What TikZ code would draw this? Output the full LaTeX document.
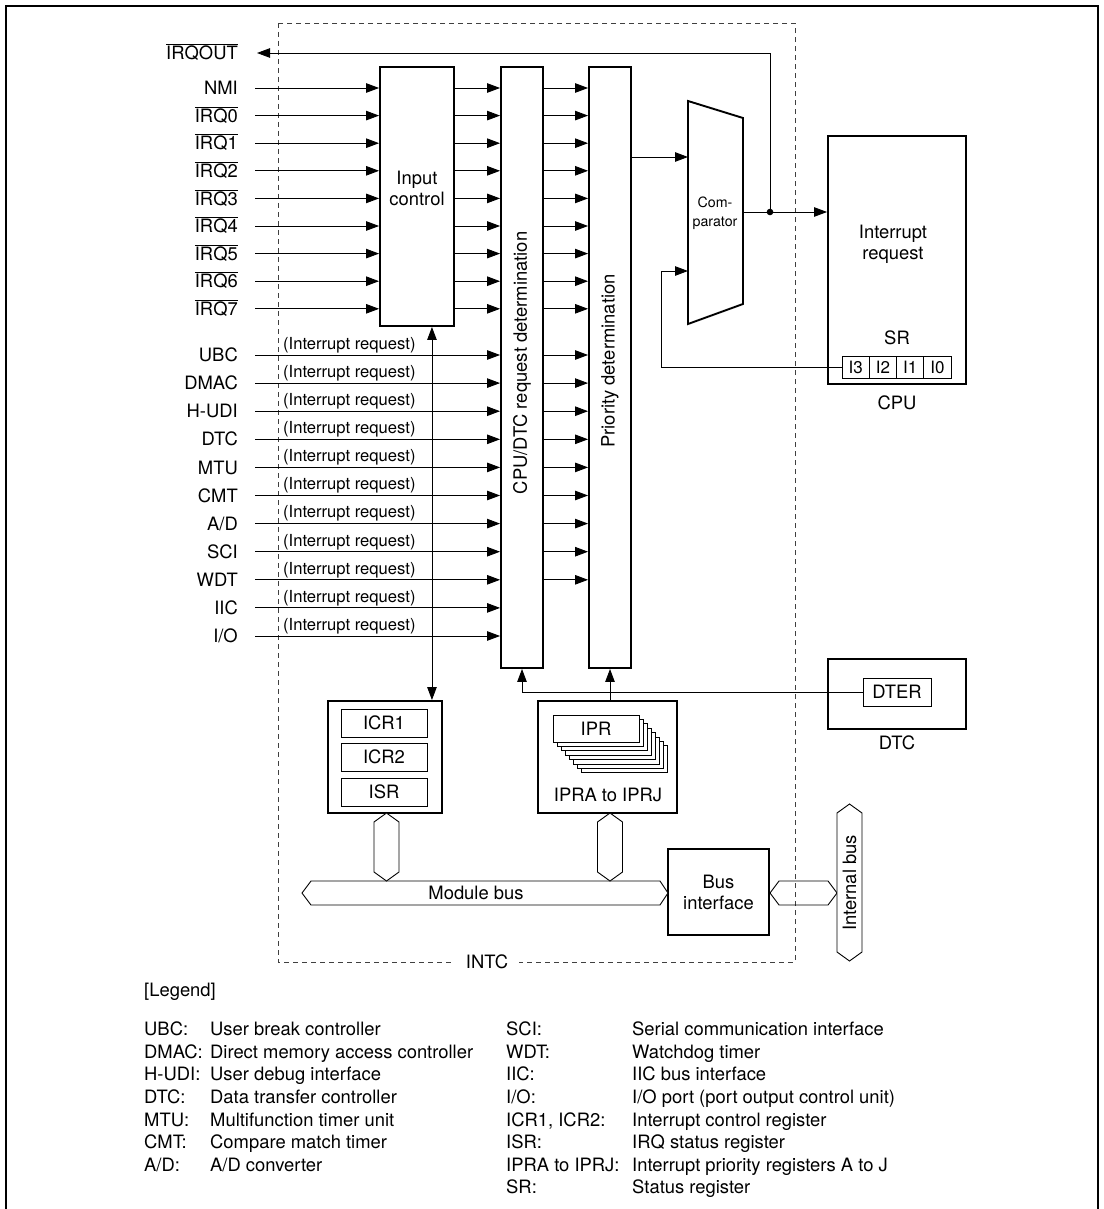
\documentclass[tikz,border=0pt]{standalone}
\usepackage{fontspec}
\setmainfont{TeX Gyre Heros}
\usetikzlibrary{arrows.meta,positioning,calc}

\newcommand{\ovl}[1]{$\overline{\mbox{#1}}$}

\begin{document}
\begin{tikzpicture}[x=1pt,y=-1pt,
  blk/.style={draw,line width=1.9pt,inner sep=0pt},
  reg/.style={draw,line width=0.8pt,fill=white,inner sep=0pt},
  txt/.style={inner sep=0pt,font=\fontsize{18.4}{21}\selectfont,align=center},
  src/.style={txt,anchor=east,text height=13.2pt,text depth=0pt},
  leg/.style={txt,anchor=west,text height=13.2pt,text depth=0pt},
  irq/.style={inner sep=0pt,font=\fontsize{16.6}{18}\selectfont},
  arr/.style={-{Triangle[length=13pt,width=9.5pt]},line width=0.9pt},
  darr/.style={{Triangle[length=13pt,width=9.5pt]}-{Triangle[length=13pt,width=9.5pt]},
               line width=0.9pt},
  bus/.style={draw,line width=0.9pt,fill=white},
]
\useasboundingbox (0,0) rectangle (1103,1209);

%% Outer frame (open at the bottom)
\draw[line width=2.6pt] (6,1212) -- (6,6) -- (1098,6) -- (1098,1212);

%% INTC boundary
\draw[dash pattern=on 5pt off 4pt,line width=0.8pt,black!75] (278,23) rectangle (795,962);
\node[txt,fill=white,inner xsep=11pt,inner ysep=2pt] (intc) at (487,962) {INTC};

%% Main blocks
\node[blk,minimum width=74,minimum height=259] (inctl) at (417,196.5) {};
\node[txt] (inctltxt) at (417,188) {Input\\control};
\node[blk,minimum width=42,minimum height=601] (cpudtc) at (522,367.5) {};
\node[txt,rotate=90] (cpudtctxt) at (522,363) {CPU/DTC request determination};
\node[blk,minimum width=42,minimum height=601] (prio) at (610,367.5) {};
\node[txt,rotate=90] (priotxt) at (610,361) {Priority determination};

% Comparator
\draw[line width=1.9pt] (688,101) -- (743,118) -- (743,304) -- (688,324) -- cycle;
\coordinate (cmpin1) at (688,157);
\coordinate (cmpin2) at (688,271);
\coordinate (cmpout) at (743,212);
\coordinate (tap) at (770,212);
\node[inner sep=0pt,font=\fontsize{14.2}{19}\selectfont,align=center] (cmptxt)
  at (715,213) {Com-\\parator};

% CPU
\node[blk,minimum width=138,minimum height=248] (cpu) at (897,260) {};
\node[txt] (cputxt) at (893,244) {Interrupt\\request};
\node[txt] (srtxt) at (897,338) {SR};
\foreach \b [count=\k from 0] in {I3,I2,I1,I0}
  \node[reg,minimum width=27.25,minimum height=22,font=\fontsize{17}{17}\selectfont]
    (sr\b) at (855.6+27.25*\k,367) {\b};
\node[txt] (cpulbl) at (897,403) {CPU};

% DTC
\node[blk,minimum width=138,minimum height=70] (dtc) at (897,694) {};
\node[reg,txt,minimum width=68,minimum height=28] (dter) at (897,692) {DTER};
\node[txt] (dtclbl) at (897,743) {DTC};

% Registers
\node[blk,minimum width=114,minimum height=112] (icr) at (385,757) {};
\foreach \r/\yy in {ICR1/723,ICR2/757,ISR/792}
  \node[reg,txt,minimum width=86,minimum height=28] (\r) at (384,\yy) {\r};
\node[blk,minimum width=139,minimum height=112] (ipr) at (607.5,757) {};
\foreach \k in {7,6,...,1}
  \draw[reg] (553+4*\k,715+4.4*\k) rectangle ++(86,27);
\node[reg,txt,minimum width=86,minimum height=27] (iprreg) at (596,728.5) {IPR};
\node[txt] (iprtxt) at (608,795) {IPRA to IPRJ};

%% Buses
\node[blk,txt,minimum width=101,minimum height=86] (busif) at (718.5,892) {Bus\\interface};
\draw[bus] (302,893) -- (311,881) -- (660,881) -- (668,893) -- (660,905) -- (311,905) -- cycle;
\node[txt] (modbus) at (476,893) {Module bus};
\draw[bus] (386.5,813) -- (399,822) -- (399,872) -- (386.5,881) -- (374,872) -- (374,822) -- cycle;
\draw[bus] (610,813) -- (622.5,822) -- (622.5,872) -- (610,881) -- (597.5,872) -- (597.5,822) -- cycle;
\draw[line width=0.9pt] (770,893) -- (779,881) -- (828,881) -- (837,893) -- (828,905) -- (779,905) -- cycle;
\draw[bus] (849.5,804) -- (862,813) -- (862,952) -- (849.5,961) -- (837,952) -- (837,813) -- cycle;
\node[txt,rotate=90] (intbus) at (849.5,883) {Internal bus};

%% Inputs: NMI and IRQ pins
\foreach \t [count=\i from 0] in {NMI,\ovl{IRQ0},\ovl{IRQ1},\ovl{IRQ2},\ovl{IRQ3},
                                  \ovl{IRQ4},\ovl{IRQ5},\ovl{IRQ6},\ovl{IRQ7}}{
  \node[src] (in\i) at (238,88+27.6*\i) {\t};
  \draw[arr] ([xshift=17pt]in\i.east) -- (inctl.west |- in\i.east);
  \draw[arr] (inctl.east |- in\i.east) -- (cpudtc.west |- in\i.east);
  \draw[arr] (cpudtc.east |- in\i.east) -- (prio.west |- in\i.east);
}

%% Inputs: on-chip modules
\foreach \t [count=\i from 0] in {UBC,DMAC,H-UDI,DTC,MTU,CMT,A/D,SCI,WDT,IIC,I/O}{
  \node[src] (mod\i) at (238,355+28.1*\i) {\t};
  \draw[arr] ([xshift=17pt]mod\i.east) -- (cpudtc.west |- mod\i.east);
  \node[irq,anchor=base west] (req\i) at ($(mod\i.east)+(45,-5.7)$) {(Interrupt request)};
  \ifnum\i<9
    \draw[arr] (cpudtc.east |- mod\i.east) -- (prio.west |- mod\i.east);
  \fi
}

%% Comparator and CPU paths
\node[src] (irqout) at (238,53) {\ovl{IRQOUT}};
\draw[arr] (prio.east |- cmpin1) -- (cmpin1);
\draw[arr] (cmpout) -- (cpu.west |- cmpout);
\fill (tap) circle (3.3pt);
\draw[arr] (tap) |- ([xshift=19pt]irqout.east);
\draw[arr] (srI3.west) -- ++(-180,0) |- (cmpin2);

%% DTC and register paths
\draw[arr] (dter.west) -| (cpudtc.south);
\draw[arr] (prio.south |- ipr.north) -- (prio.south);
\coordinate (icrtap) at ($(icr.north east)+(-11,0)$);
\draw[darr] (icrtap) -- (icrtap |- inctl.south);

%% Legend
\node[leg] (leghead) at (144,990) {[Legend]};
\foreach \a/\d [count=\i from 0] in {UBC:/User break controller,
    DMAC:/Direct memory access controller,H-UDI:/User debug interface,
    DTC:/Data transfer controller,MTU:/Multifunction timer unit,
    CMT:/Compare match timer,{A/D:}/{A/D converter}}{
  \node[leg] (la\i) at (144,1029+22.6*\i) {\a};
  \node[leg] (ld\i) at (210,1029+22.6*\i) {\d};
}
\foreach \a/\d [count=\i from 0] in {SCI:/Serial communication interface,
    WDT:/Watchdog timer,IIC:/IIC bus interface,
    {I/O:}/{I/O port (port output control unit)},
    {ICR1, ICR2:}/Interrupt control register,ISR:/IRQ status register,
    IPRA to IPRJ:/Interrupt priority registers A to J,SR:/Status register}{
  \node[leg] (ra\i) at (506,1029+22.6*\i) {\a};
  \node[leg] (rd\i) at (632,1029+22.6*\i) {\d};
}
\end{tikzpicture}
\end{document}
